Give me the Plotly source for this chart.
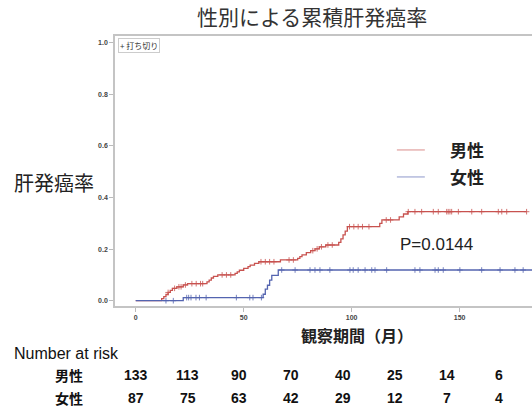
import plotly.graph_objects as go

# Cumulative incidence step points (months, cumulative rate)
male_t = [0, 12, 13, 14, 15, 16, 17, 19, 22, 24, 33, 34, 35, 36, 38, 46, 47, 48, 50, 52,
          53, 55, 57, 67, 75, 76, 77, 79, 81, 83, 85, 88, 94, 95, 96, 97, 98, 113, 114,
          122, 124, 126, 181]
male_v = [0, 0.008, 0.016, 0.024, 0.032, 0.040, 0.048, 0.054, 0.061, 0.066, 0.073, 0.080,
          0.088, 0.094, 0.100, 0.106, 0.112, 0.118, 0.125, 0.132, 0.138, 0.145, 0.151,
          0.158, 0.164, 0.171, 0.178, 0.186, 0.194, 0.201, 0.209, 0.216, 0.226, 0.240,
          0.255, 0.270, 0.287, 0.300, 0.313, 0.325, 0.336, 0.345, 0.345]

female_t = [0, 22, 59, 60, 61, 62, 63, 66, 185]
female_v = [0, 0.012, 0.025, 0.045, 0.060, 0.080, 0.098, 0.119, 0.119]

# Censoring times
male_cens = [15, 18, 20, 21, 23, 26, 28, 30, 31, 40, 42, 44, 58, 60, 62, 64, 71, 73,
             82, 84, 86, 89, 91, 99, 101, 103, 105, 108, 116, 118, 126.2, 129.3, 132.4,
             137.8, 140.1, 144, 144.7, 145.5, 146.3, 149.4, 155.6, 160.2, 167.9, 169.5,
             171.8, 181]
female_cens = [14, 17.4, 23.6, 24.5, 25.6, 27.9, 29.5, 32.6, 46.6, 52.8, 54.3, 58.2,
               67.6, 73.8, 80.7, 83, 85.3, 89.9, 99.2, 100.7, 103, 106.2, 109.3, 110.8,
               116.2, 129.3, 131.6, 138.6, 140.1, 142.4, 150.1, 160.2, 168.7, 175.6, 179.4]

# Number at risk table
risk_times = [0, 24, 48, 72, 96, 120, 144, 168]
risk_male = [133, 113, 90, 70, 40, 25, 14, 6]
risk_female = [87, 75, 63, 42, 29, 12, 7, 4]

group_names = ["男性", "女性"]
p_text = "P=0.0144"

RED = "#c8524f"
BLUE = "#5464b0"
CJK = "Noto Sans CJK JP"
LAT = "Liberation Sans, Arial, sans-serif"


def step_value(ts, vs, t):
    val = vs[0]
    for ti, vi in zip(ts, vs):
        if ti <= t:
            val = vi
    return val


fig = go.Figure()
for ts, vs, cens, col in [(male_t, male_v, male_cens, RED),
                          (female_t, female_v, female_cens, BLUE)]:
    fig.add_trace(go.Scatter(x=ts, y=vs, mode="lines", line=dict(color=col, width=1.3, shape="hv"),
                             showlegend=False, hoverinfo="skip"))
    fig.add_trace(go.Scatter(x=cens, y=[step_value(ts, vs, c) for c in cens], mode="markers",
                             marker=dict(symbol="cross-thin", size=4, color=col, opacity=0.8,
                                         line=dict(width=1, color=col)),
                             showlegend=False, hoverinfo="skip"))

annotations = []
# Title
annotations.append(dict(text="性別による累積肝発癌率", x=0.4736, y=1.074, xref="paper", yref="paper",
                        showarrow=False, font=dict(family=CJK, size=21, color="#333"),
                        xanchor="center", yanchor="middle"))
# Y label
annotations.append(dict(text="肝発癌率", x=-0.146, y=0.459, xref="paper", yref="paper",
                        showarrow=False, font=dict(family=CJK, size=20, color="#222"),
                        xanchor="center", yanchor="middle"))
# X label
annotations.append(dict(text="<b>観察期間（月）</b>", x=0.58, y=-0.107, xref="paper", yref="paper",
                        showarrow=False, font=dict(family=CJK, size=16, color="#222"),
                        xanchor="center", yanchor="middle"))
# Censor key
annotations.append(dict(text="+ 打ち切り", x=0.008, y=0.994, xref="paper", yref="paper",
                        showarrow=False, font=dict(family=CJK, size=8, color="#333"),
                        xanchor="left", yanchor="top", bordercolor="#cccccc", borderwidth=1,
                        borderpad=1, bgcolor="white"))
# P value
annotations.append(dict(text=p_text, x=0.77, y=0.226, xref="paper", yref="paper",
                        showarrow=False, font=dict(family=LAT, size=17, color="#222"),
                        xanchor="center", yanchor="middle"))
# Group key
shapes = []
for name, col, yk in [(group_names[0], RED, 0.578), (group_names[1], BLUE, 0.478)]:
    shapes.append(dict(type="line", xref="paper", yref="paper", x0=0.676, x1=0.743, y0=yk, y1=yk,
                       line=dict(color=col, width=1.2), opacity=0.55))
    annotations.append(dict(text=f"<b>{name}</b>", x=0.799, y=yk, xref="paper", yref="paper",
                            showarrow=False, font=dict(family=CJK, size=17, color="#222"),
                            xanchor="left", yanchor="middle"))
# Number at risk
annotations.append(dict(text="Number at risk", x=-0.247, y=-0.176, xref="paper", yref="paper",
                        showarrow=False, font=dict(family=LAT, size=16, color="#111"),
                        xanchor="left", yanchor="middle"))
for name, counts, yr in [(group_names[0], risk_male, -0.256), (group_names[1], risk_female, -0.342)]:
    annotations.append(dict(text=f"<b>{name}</b>", x=-0.110, y=yr, xref="paper", yref="paper",
                            showarrow=False, font=dict(family=CJK, size=14, color="#111"),
                            xanchor="center", yanchor="middle"))
    for t, n in zip(risk_times, counts):
        annotations.append(dict(text=f"<b>{n}</b>", x=t, y=yr, xref="x", yref="paper",
                                showarrow=False, font=dict(family=LAT, size=14, color="#111"),
                                xanchor="center", yanchor="middle"))

axis_common = dict(showgrid=False, zeroline=False, showline=True, linecolor="#c4c4c4",
                   linewidth=1.5, ticks="outside", ticklen=4, tickcolor="#bbbbbb",
                   tickfont=dict(family=LAT, size=7, color="#444", weight="bold"))

fig.update_layout(
    width=532, height=414,
    margin=dict(l=115, r=0, t=36, b=108),
    paper_bgcolor="white", plot_bgcolor="white",
    xaxis=dict(range=[-9.6, 183.5], tickvals=[0, 50, 100, 150], mirror=True, **axis_common),
    yaxis=dict(range=[-0.0205, 1.026], tickvals=[0, 0.2, 0.4, 0.6, 0.8, 1.0], tickformat=".1f",
               **axis_common),
    annotations=annotations,
    shapes=shapes,
)

fig.write_html("out.html")
